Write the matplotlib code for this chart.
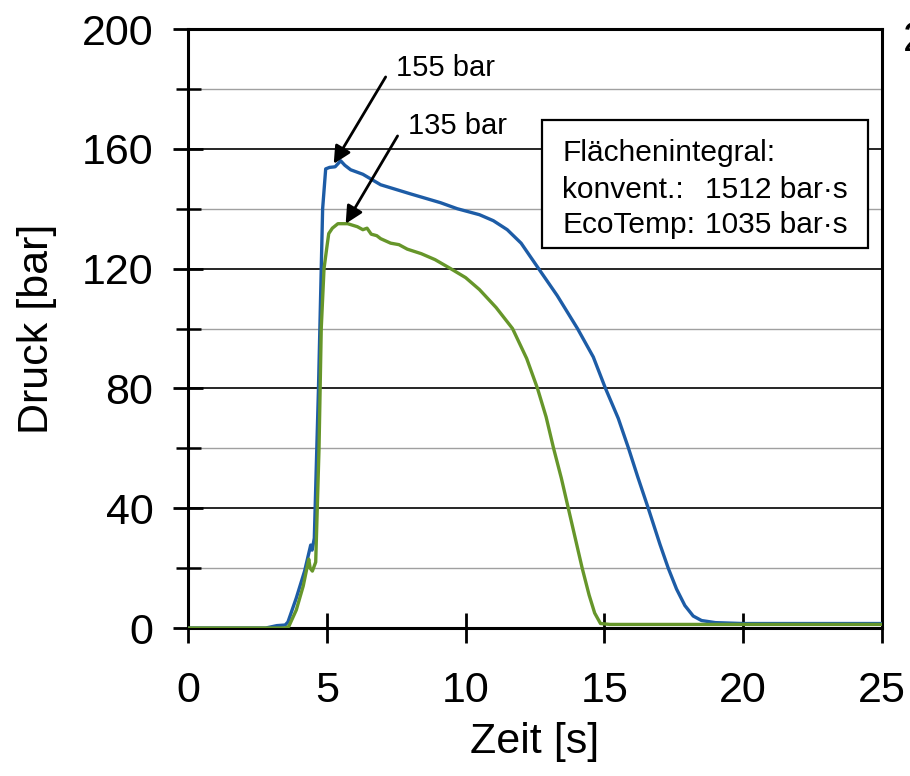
import matplotlib.pyplot as plt
from matplotlib.patches import Rectangle

plt.rcParams['font.family'] = ['Liberation Sans', 'DejaVu Sans']

# konventionell (blau)
blue_t = [0, 2.8, 3.2, 3.5, 3.6, 3.9, 4.2, 4.42, 4.47, 4.55, 4.7, 4.85, 4.96, 5.1, 5.3,
          5.5, 5.65, 5.86, 6.3, 6.94, 8.0, 9.1, 9.7, 10.5, 11.0, 11.5, 12.0, 12.63, 13.3,
          14.03, 14.6, 15.04, 15.5, 15.87, 16.2, 16.58, 17.0, 17.3, 17.6, 17.9, 18.2,
          18.5, 19.0, 20, 22, 25]
blue_p = [0, 0, 0.8, 1.0, 2, 10, 19, 27.7, 26, 30, 80, 140, 153.3, 153.8, 154,
          156, 154.5, 153, 151.5, 148, 145, 142, 140, 138, 136, 133, 128.5, 120, 111,
          100, 90.5, 80, 70, 60, 50.5, 40, 28, 20, 13, 7.5, 4,
          2.5, 1.8, 1.5, 1.5, 1.5]

# EcoTemp (gruen)
green_t = [0, 3.5, 3.63, 3.9, 4.15, 4.35, 4.4, 4.48, 4.6, 4.72, 4.8, 4.9, 5.0, 5.07,
           5.2, 5.4, 5.75, 6.1, 6.3, 6.45, 6.6, 6.8, 6.94, 7.3, 7.6, 7.9, 8.4, 8.9,
           9.46, 10.0, 10.5, 11.1, 11.69, 12.2, 12.59, 12.9, 13.17, 13.45, 13.7,
           13.95, 14.2, 14.45, 14.65, 14.86, 15.2, 20, 25]
green_p = [0, 0, 0.5, 6, 14, 23, 20, 19, 22, 60, 100, 120, 127, 131.7,
           133.5, 135, 135, 134, 133, 133.5, 131.5, 131, 130, 128.5, 128, 126.5, 125, 123,
           120, 117, 113, 107, 100, 90, 80, 70.5, 60, 50, 40,
           30, 20, 11, 5, 1.5, 1.2, 1.2, 1.2]

x_ticks = [0, 5, 10, 15, 20, 25]
y_ticks = [0, 40, 80, 120, 160, 200]
y_minor = [20, 60, 100, 140, 180]

peak_labels = ["155 bar", "135 bar"]
box_title = "Flächenintegral:"
box_names = ["konvent.:", "EcoTemp:"]
box_values = ["1512 bar·s", "1035 bar·s"]

fig = plt.figure(figsize=(9.1, 7.76), dpi=100)
ax = fig.add_axes([0.2066, 0.1907, 0.7626, 0.7719])

ax.plot(blue_t, blue_p, color='#1d5ca6', lw=2.4, zorder=3)
ax.plot(green_t, green_p, color='#66962a', lw=2.4, zorder=3)

ax.set_xlim(0, 25)
ax.set_ylim(0, 200)
ax.set_xticks(x_ticks)
ax.set_yticks(y_ticks)
ax.set_yticks(y_minor, minor=True)

ax.grid(True, which='major', axis='y', color='black', lw=1.2, zorder=1)
ax.grid(True, which='minor', axis='y', color='#a0a0a0', lw=1.0, zorder=1)

for s in ax.spines.values():
    s.set_linewidth(2.2)

ax.tick_params(axis='both', which='major', direction='inout', length=22, width=2,
               labelsize=31, pad=14)
ax.tick_params(axis='y', which='minor', direction='inout', length=18, width=1.8)
ax.tick_params(axis='x', which='major', pad=20)

ax.set_xlabel("Zeit [s]", fontsize=31, labelpad=8)
ax.set_ylabel("Druck [bar]", fontsize=31, labelpad=18)

# Pfeile zu den Spitzenwerten
arrow = dict(arrowstyle='-|>', lw=2.0, color='black', mutation_scale=26,
             shrinkA=0, shrinkB=0)
ax.annotate('', xy=(5.25, 155), xytext=(7.12, 184), arrowprops=arrow, zorder=4)
ax.annotate('', xy=(5.68, 135), xytext=(7.55, 164.3), arrowprops=arrow, zorder=4)
ax.text(7.48, 187, peak_labels[0], fontsize=21, va='center', ha='left')
ax.text(7.91, 167.7, peak_labels[1], fontsize=21, va='center', ha='left')

# Kasten mit Flaechenintegral
ax.add_patch(Rectangle((0.510, 0.634), 0.470, 0.214, transform=ax.transAxes,
                       facecolor='white', edgecolor='black', lw=1.6, zorder=5))
ax.text(0.539, 0.793, box_title, transform=ax.transAxes, fontsize=21.5,
        va='center', ha='left', zorder=6)
for i, (n, v) in enumerate(zip(box_names, box_values)):
    yy = 0.731 - i * 0.058
    ax.text(0.539, yy, n, transform=ax.transAxes, fontsize=21.5,
            va='center', ha='left', zorder=6)
    ax.text(0.745, yy, v, transform=ax.transAxes, fontsize=21.5,
            va='center', ha='left', zorder=6)

fig.text(903 / 910, 1 - 40 / 776, "2", fontsize=31, va='center', ha='left')

fig.savefig("out.png", dpi=100)
